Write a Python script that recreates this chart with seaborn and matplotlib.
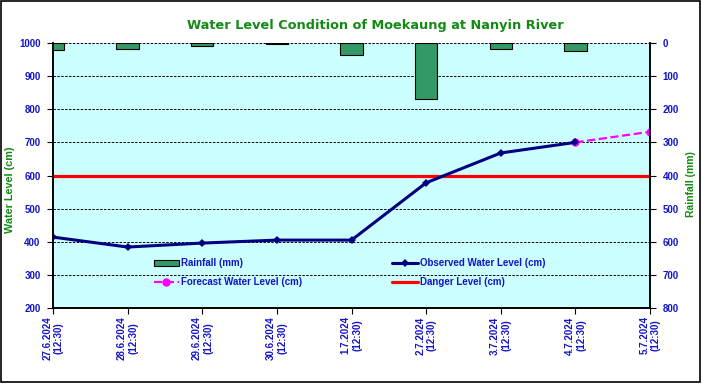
import numpy as np
import pandas as pd
import matplotlib
matplotlib.use("Agg")
import matplotlib.pyplot as plt
import seaborn as sns
from matplotlib.lines import Line2D
from matplotlib.patches import Patch, Rectangle

# Datos
fechas = ["27.6.2024", "28.6.2024", "29.6.2024", "30.6.2024", "1.7.2024",
          "2.7.2024", "3.7.2024", "4.7.2024", "5.7.2024"]
hora = "(12:30)"
lluvia = [21, 17, 10, 3, 36, 170, 17, 25]           # mm
nivel_obs = [414, 384, 396, 405, 405, 578, 668, 700]  # cm
nivel_pron = [700, 732]                              # cm (4.7 -> 5.7)
nivel_peligro = 600

azul = "#1414C8"
verde = "#138A13"

sns.set_style("ticks")
plt.rcParams["font.family"] = ["Liberation Sans", "DejaVu Sans"]

fig = plt.figure(figsize=(7.02, 3.84), dpi=100)
ax = fig.add_axes([53 / 702, 1 - 308 / 384, (650 - 53) / 702, (308 - 43) / 384])
ax.set_facecolor("#CCFFFF")
ax2 = ax.twinx()

x = np.arange(len(fechas))
df_obs = pd.DataFrame({"x": x[:len(nivel_obs)], "nivel": nivel_obs})
df_pron = pd.DataFrame({"x": x[len(nivel_obs) - 1:], "nivel": nivel_pron})
df_lluvia = pd.DataFrame({"x": x[:len(lluvia)], "lluvia": lluvia})

# Lluvia (eje derecho invertido)
sns.barplot(data=df_lluvia, x="x", y="lluvia", native_scale=True, ax=ax2,
            color="#339966", saturation=1, edgecolor="black", linewidth=0.8,
            width=0.3, errorbar=None)

# Nivel de agua
ax.axhline(nivel_peligro, color="red", lw=2.3, zorder=3)
sns.lineplot(data=df_pron, x="x", y="nivel", ax=ax, color="#FF00FF", lw=1.6,
             linestyle="--", marker="o", markersize=6, markeredgewidth=0, zorder=4)
sns.lineplot(data=df_obs, x="x", y="nivel", ax=ax, color="#000080", lw=2.2,
             marker="D", markersize=4.5, markeredgewidth=0, zorder=5)

ax.set_ylim(200, 1000)
ax.set_yticks(range(200, 1001, 100))
ax2.set_ylim(800, 0)
ax2.set_yticks(range(0, 801, 100))
ax.set_xlim(0, len(fechas) - 1)
ax2.set_xlim(0, len(fechas) - 1)
ax.set_xticks(x)
ax.set_xticklabels([f + "\n" + hora for f in fechas], rotation=90,
                   multialignment="center")

for a in (ax, ax2):
    a.spines["top"].set_visible(False)
    for s in ("left", "right", "bottom"):
        a.spines[s].set_color("black")
        a.spines[s].set_linewidth(1.2)
    a.tick_params(colors="black", labelcolor=azul, labelsize=7, length=4,
                  width=0.8, direction="out")
    for lab in a.get_xticklabels() + a.get_yticklabels():
        lab.set_fontweight("bold")
ax.tick_params(axis="y", pad=5)
ax2.tick_params(axis="y", pad=5)
ax.tick_params(axis="x", pad=2)

ax.grid(axis="y", color="black", linestyle=(0, (2.5, 1.5)), lw=0.7)
ax.set_axisbelow(True)

ax.set_xlabel("")
ax2.set_xlabel("")
ax.set_ylabel("Water Level (cm)", color=verde, fontsize=7.8, fontweight="bold")
ax.yaxis.set_label_coords(-0.064, 0.445)
ax2.set_ylabel("Rainfall (mm)", color=verde, fontsize=7.5, fontweight="bold")
ax2.yaxis.set_label_coords(1.060, 0.468)

fig.text(375 / 702, 1 - 25 / 384, "Water Level Condition of Moekaung at Nanyin River",
         ha="center", va="center", color=verde, fontsize=9.3, fontweight="bold",
         family="DejaVu Sans")

handles = [
    Patch(facecolor="#339966", edgecolor="black", lw=0.8),
    Line2D([], [], color="#FF00FF", lw=1.6, linestyle="--", marker="o",
           markersize=6, markeredgewidth=0),
    Line2D([], [], color="#000080", lw=2.2, marker="D", markersize=4.5,
           markeredgewidth=0),
    Line2D([], [], color="red", lw=2.3),
]
labels = ["Rainfall (mm)", "Forecast Water Level (cm)",
          "Observed Water Level (cm)", "Danger Level (cm)"]
leg = ax2.legend(handles, labels, ncol=2, frameon=False, loc="lower left",
                 bbox_to_anchor=(0.162, 0.066), fontsize=7, handlelength=2.6,
                 handleheight=0.5, handletextpad=0.2, columnspacing=9.3,
                 labelspacing=0.85, borderaxespad=0)
for t in leg.get_texts():
    t.set_color(azul)
    t.set_fontweight("bold")

fig.patches.append(Rectangle((1 / 702, 2 / 384), 699 / 702, 381 / 384,
                             transform=fig.transFigure, fill=False,
                             edgecolor="black", lw=1.2))

fig.savefig("out.png", dpi=100)
